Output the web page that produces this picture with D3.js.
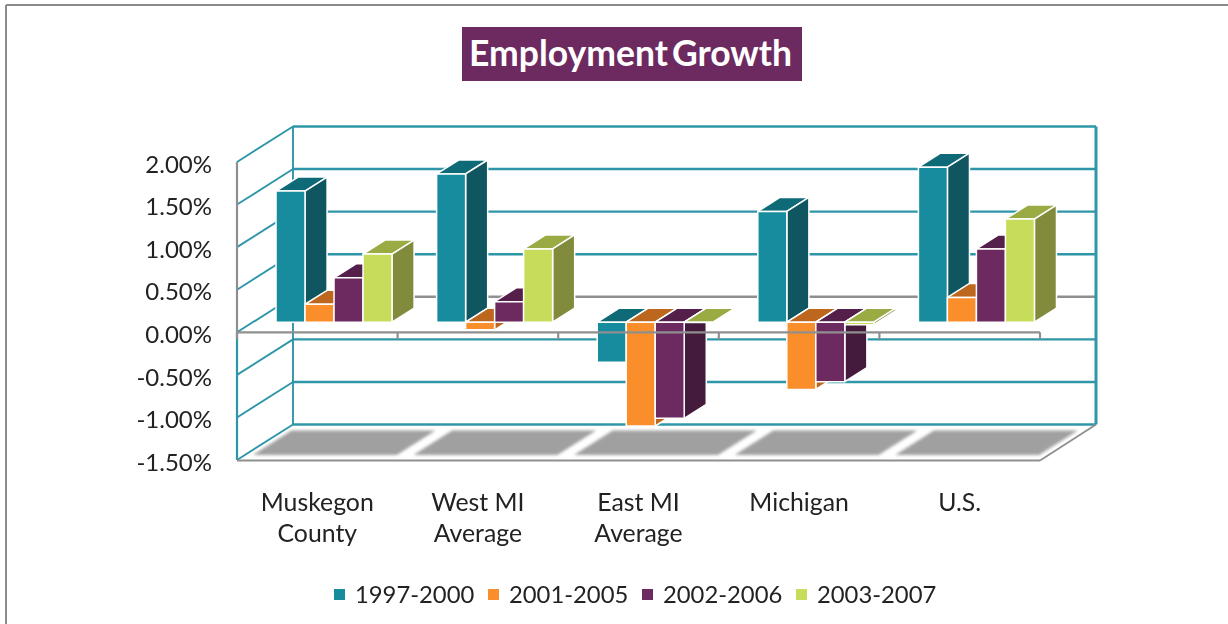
<!DOCTYPE html>
<html>

<head>
    <meta charset="utf-8">
    <script src="https://cdnjs.cloudflare.com/ajax/libs/d3/7.8.5/d3.min.js"></script>
    <style>
        body {
            margin: 0;
            background: #fff;
        }

        svg {
            display: block;
            filter: blur(0.45px);
        }

        text {
            font-family: Lato, "Open Sans", sans-serif;
            fill: #222;
        }
    </style>
</head>

<body>
    <svg width="1228" height="624"></svg>
    <script>
        var categories = [["Muskegon", "County"], ["West MI", "Average"], ["East MI", "Average"], ["Michigan"], ["U.S."]];
        var seriesNames = ["1997-2000", "2001-2005", "2002-2006", "2003-2007"];
        var s1997 = [1.54, 1.74, -0.47, 1.30, 1.82];
        var s2001 = [0.21, -0.09, -1.22, -0.79, 0.29];
        var s2002 = [0.52, 0.24, -1.13, -0.70, 0.86];
        var s2003 = [0.80, 0.86, -0.005, -0.03, 1.21];
        var yTicks = [2, 1.5, 1, 0.5, 0, -0.5, -1, -1.5];

        var seriesValues = [s1997, s2001, s2002, s2003];
        var front = ["#178c9f", "#f98e2b", "#6c2a60", "#c8dc5c"];
        var side = ["#0f5660", "#bc661e", "#441b3d", "#818b3b"];
        var top_ = ["#0f6a78", "#bc661e", "#551f4c", "#9aab44"];
        var teal = "#2f96a8", grey = "#8f8f8f";

        var svg = d3.select("svg");

        // depth vector of the fake 3d box
        var depthX = 56, depthY = -35.5;
        var barD0 = 0.286, barD1 = 0.68;

        var y = d3.scaleLinear().domain([-1.5, 2]).range([460, 162]);
        var x = d3.scaleBand().domain(d3.range(5)).range([237, 1040])
            .paddingInner(44.6 / 160.6).paddingOuter(22.3 / 160.6);
        var xs = d3.scaleBand().domain(d3.range(4)).range([0.7, x.bandwidth() + 0.7]);
        var step = x.step();
        var left = 237, right = 1040;

        function pt(px, py, d) {
            return [px + depthX * d, py + depthY * d];
        }

        function poly(sel, pts, fill) {
            return sel.append("path")
                .attr("d", d3.line()(pts) + "Z")
                .attr("fill", fill);
        }

        function seg(sel, a, b, color, w) {
            return sel.append("line")
                .attr("x1", a[0]).attr("y1", a[1])
                .attr("x2", b[0]).attr("y2", b[1])
                .attr("stroke", color).attr("stroke-width", w);
        }

        // page frame
        seg(svg, [6, 5], [1228, 5], "#8a8a8a", 2);
        seg(svg, [6, 5], [6, 624], "#8a8a8a", 2);

        // title
        svg.append("rect").attr("x", 462).attr("y", 27).attr("width", 340).attr("height", 54).attr("fill", "#6c2a60");
        svg.append("text").attr("x", 630.5).attr("y", 66).attr("text-anchor", "middle")
            .style("fill", "#fff").style("font-size", "35.5px").style("font-weight", 700).style("word-spacing", "-4.5px")
            .text("Employment Growth");

        // floor panels
        var defs = svg.append("defs");
        defs.append("filter").attr("id", "soft").append("feGaussianBlur").attr("stdDeviation", 1.4);
        var floor = svg.append("g").attr("filter", "url(#soft)");
        d3.range(5).forEach(function(i) {
            var a = left + step * i + 8, b = a + 144;
            poly(floor, [pt(a, 460, 0.14), pt(b, 460, 0.14), pt(b, 460, 0.83), pt(a, 460, 0.83)], "#a0a0a0");
        });

        // walls
        var walls = svg.append("g");
        yTicks.forEach(function(t) {
            var yy = y(t);
            seg(walls, pt(right, yy, 1), pt(left, yy, 1), t === 0 ? grey : teal, 2.4);
            seg(walls, [left, yy], pt(left, yy, 1), teal, 1.9);
        });
        seg(walls, pt(left, y(2), 1), pt(left, y(-1.5), 1), teal, 1.9);
        seg(walls, pt(right, y(2), 1), pt(right, y(-1.5), 1), teal, 3);
        seg(walls, [left, y(2)], [left, y(0)], grey, 2.2);
        seg(walls, [left, y(0)], [left, y(-1.5)], teal, 2.2);
        seg(walls, [left, 460.5], [right, 460.5], grey, 2.2);
        seg(walls, [right, 460.5], pt(right, y(-1.5), 1), grey, 1.8);

        // bars, left to right so each one hides the side of the one before
        var bars = svg.append("g").attr("stroke", "#fff").attr("stroke-width", 1.5).attr("stroke-linejoin", "round");
        d3.range(5).forEach(function(c) {
            seriesValues.forEach(function(vals, s) {
                var x0 = x(c) + xs(s), x1 = x0 + xs.bandwidth();
                var yA = y(Math.max(vals[c], 0)), yB = y(Math.min(vals[c], 0));
                var g = bars.append("g");
                poly(g, [pt(x0, yA, barD0), pt(x1, yA, barD0), pt(x1, yA, barD1), pt(x0, yA, barD1)], top_[s]);
                poly(g, [pt(x1, yA, barD0), pt(x1, yB, barD0), pt(x1, yB, barD1), pt(x1, yA, barD1)], side[s]);
                poly(g, [pt(x0, yA, barD0), pt(x1, yA, barD0), pt(x1, yB, barD0), pt(x0, yB, barD0)], front[s]);
            });
        });

        // zero axis sits on top of the bars
        seg(svg, [left, y(0)], [right, y(0)], grey, 2.2);
        d3.range(6).forEach(function(i) {
            var tx = left + step * i;
            seg(svg, [tx, y(0)], [tx, y(0) + 7], grey, 2.2);
        });

        // y labels
        var yAxis = d3.axisLeft(y).tickValues(yTicks).tickSize(0).tickPadding(0)
            .tickFormat(function(d) { return d.toFixed(2) + "%"; });
        var ay = svg.append("g").attr("transform", "translate(212,2.5)").call(yAxis);
        ay.select(".domain").remove();
        ay.selectAll("text").style("font-size", "24px").style("font-family", null);

        // category labels
        categories.forEach(function(lines, i) {
            lines.forEach(function(l, j) {
                svg.append("text").attr("x", left + step * (i + 0.5)).attr("y", 511 + j * 31)
                    .attr("text-anchor", "middle").style("font-size", "24.8px").text(l);
            });
        });

        // legend
        var legendX = d3.scalePoint().domain(seriesNames).range([334, 796]);
        seriesNames.forEach(function(n, i) {
            var lx = legendX(n);
            svg.append("rect").attr("x", lx).attr("y", 589).attr("width", 11).attr("height", 11).attr("fill", front[i]);
            svg.append("text").attr("x", lx + 21).attr("y", 603).style("font-size", "23.8px").text(n);
        });
    </script>
</body>

</html>
